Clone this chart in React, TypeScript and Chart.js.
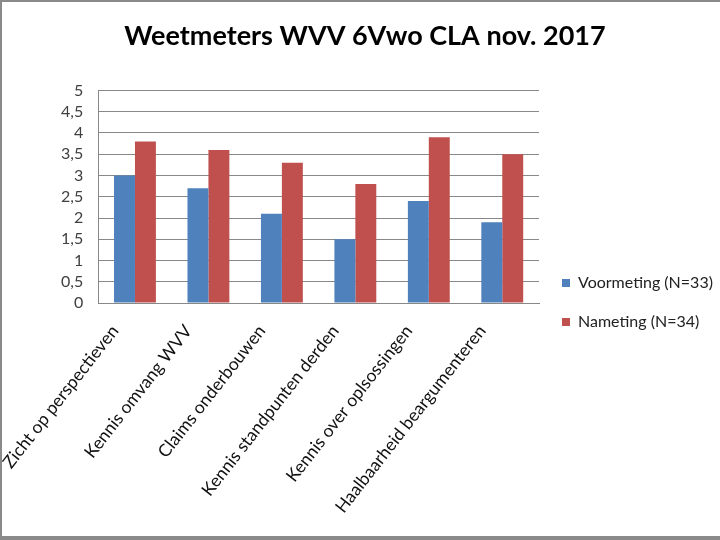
import React, { useEffect, useRef } from "react";
import { Chart, registerables } from "chart.js";

Chart.register(...registerables);

const title = "Weetmeters WVV 6Vwo CLA nov. 2017";
const categories = [
  "Zicht op perspectieven",
  "Kennis omvang WVV",
  "Claims onderbouwen",
  "Kennis standpunten derden",
  "Kennis over oplsossingen",
  "Haalbaarheid beargumenteren",
];
const voormetingLabel = "Voormeting (N=33)";
const voormeting = [3.0, 2.7, 2.1, 1.5, 2.4, 1.9];
const nametingLabel = "Nameting (N=34)";
const nameting = [3.8, 3.6, 3.3, 2.8, 3.9, 3.5];
const yMin = 0;
const yMax = 5;
const yStep = 0.5;

const FONT = "Lato, 'Open Sans', sans-serif";
const PAD_BOTTOM = 1;

export default function App() {
  const ref = useRef<HTMLCanvasElement | null>(null);
  useEffect(() => {
    if (!ref.current) return;
    const chart = new Chart(ref.current, {
      type: "bar",
      data: {
        labels: categories,
        datasets: [
          {
            label: voormetingLabel,
            data: voormeting,
            backgroundColor: "#4F81BD",
            borderWidth: 0,
            barPercentage: 1,
            categoryPercentage: 0.57,
          },
          {
            label: nametingLabel,
            data: nameting,
            backgroundColor: "#C0504D",
            borderWidth: 0,
            barPercentage: 1,
            categoryPercentage: 0.57,
          },
        ],
      },
      options: {
        animation: false,
        responsive: false,
        maintainAspectRatio: false,
        layout: { padding: { left: 8, right: 0, top: 0, bottom: PAD_BOTTOM } },
        plugins: {
          title: {
            display: true,
            text: title,
            color: "#000",
            font: { family: FONT, size: 27, weight: "bold" },
            padding: { top: 18, bottom: 38 },
          },
          legend: {
            position: "right",
            maxWidth: 181,
            title: {
              display: true,
              text: "",
              font: { family: FONT, size: 12 },
              padding: { top: 67 + PAD_BOTTOM - 14.4, bottom: 0 },
            },
            labels: {
              boxWidth: 8,
              boxHeight: 8,
              padding: 23,
              color: "#222",
              font: { family: FONT, size: 16 },
            },
          },
          tooltip: { enabled: false },
        },
        scales: {
          x: {
            grid: { display: false, drawTicks: false },
            border: { display: true, color: "#888", width: 1 },
            ticks: {
              color: "#111",
              minRotation: 52,
              maxRotation: 52,
              autoSkip: false,
              padding: 18,
              labelOffset: -20,
              font: { family: FONT, size: 17.5 },
            },
          },
          y: {
            min: yMin,
            max: yMax,
            afterFit: (s: any) => {
              s.width = 74;
            },
            ticks: {
              stepSize: yStep,
              autoSkip: false,
              color: "#404040",
              padding: 15,
              font: { family: FONT, size: 16 },
              callback: (v: any) => String(v).replace(".", ","),
            },
            grid: { color: "#888", drawTicks: false, lineWidth: 1 },
            border: { display: true, color: "#888" },
          },
        },
      },
    });
    return () => chart.destroy();
  }, []);
  return (
    <div
      style={{
        position: "fixed",
        left: 0,
        top: 0,
        width: 720,
        height: 540,
        boxSizing: "border-box",
        borderTop: "2px solid #8a8a8a",
        borderLeft: "2px solid #8a8a8a",
        borderBottom: "4px solid #8a8a8a",
        background: "#fff",
        overflow: "hidden",
      }}
    >
      <canvas ref={ref} width={718} height={534} style={{ display: "block" }} />
    </div>
  );
}
